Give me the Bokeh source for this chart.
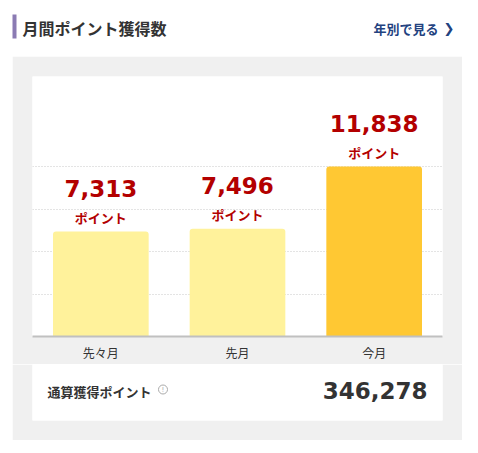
from bokeh.plotting import figure
from bokeh.models import (Range1d, FactorRange, FixedTicker, Label, BoxAnnotation,
                          ColumnDataSource, Spacer)
from bokeh.layouts import column, row
from bokeh.core.properties import value
from bokeh.embed import file_html
from bokeh.resources import INLINE

# ---- data ----
categories = ["先々月", "先月", "今月"]
points = [7313, 7496, 11838]
bar_colors = ["#fff29b", "#fff29b", "#ffc833"]
unit_label = "ポイント"
title_text = "月間ポイント獲得数"
link_text = "年別で見る"
total_label = "通算獲得ポイント"
total_points = 346278

JP = "Noto Sans CJK JP"
NUM = "DejaVu Sans"
RED = "#b30000"
GRAY_BG = "#f0f0f0"

# ---- header ----
hdr = figure(width=470, height=56, x_range=Range1d(0, 470), y_range=Range1d(56, 0),
             x_axis_location=None, y_axis_location=None, toolbar_location=None,
             output_backend="svg", min_border=0, outline_line_color=None)
hdr.xgrid.visible = False
hdr.ygrid.visible = False
hdr.add_layout(BoxAnnotation(left=12, right=16, top=14, bottom=38, fill_color="#8b7bb3",
                             fill_alpha=1, line_color=None))
hdr.add_layout(Label(x=22, y=27, text=title_text, text_font=JP, text_font_size="16px",
                     text_font_style="bold", text_color="#333333", text_baseline="middle"))
hdr.add_layout(Label(x=373, y=28, text=link_text, text_font=JP, text_font_size="13px",
                     text_font_style="bold", text_color="#23427f", text_baseline="middle"))
hdr.add_layout(Label(x=443, y=28, text="❯", text_font=NUM, text_font_size="13px",
                     text_font_style="bold", text_color="#23427f", text_baseline="middle"))

# ---- chart ----
ymax = max(points)
labels = [f"{v:,}" for v in points]
src = ColumnDataSource(dict(cat=categories, val=points, color=bar_colors,
                            lab=labels, unit=[unit_label] * len(points)))

p = figure(width=450, height=308, x_range=FactorRange(*categories),
           y_range=Range1d(0, ymax * 260 / 170), y_axis_location=None,
           toolbar_location=None, output_backend="svg",
           min_border_left=20, min_border_right=20, min_border_top=20, min_border_bottom=28,
           background_fill_color="white", border_fill_color=GRAY_BG, outline_line_color=None)
p.vbar(x="cat", top="val", width=0.70, source=src, fill_color="color", line_color=None,
       border_radius=(3, 3, 0, 0))
p.text(x="cat", y="val", text="lab", source=src, y_offset=-43, text_align="center",
       text_baseline="middle", text_font=value(NUM), text_font_style="bold",
       text_font_size="23px", text_color=RED)
p.text(x="cat", y="val", text="unit", source=src, y_offset=-14, text_align="center",
       text_baseline="middle", text_font=value(JP), text_font_style="bold",
       text_font_size="13px", text_color=RED)

p.xgrid.visible = False
p.ygrid.ticker = FixedTicker(ticks=[ymax * k / 4 for k in range(1, 5)])
p.ygrid.grid_line_color = "#c8c8c8"
p.ygrid.grid_line_dash = "1 2"
p.ygrid.grid_line_width = 1

p.xaxis.axis_line_color = "#c0c0c0"
p.xaxis.axis_line_width = 2
p.xaxis.major_tick_line_color = None
p.xaxis.minor_tick_line_color = None
p.xaxis.major_tick_out = 0
p.xaxis.major_label_standoff = 7
p.xaxis.major_label_text_font = JP
p.xaxis.major_label_text_font_size = "12px"
p.xaxis.major_label_text_color = "#333333"

# ---- total box ----
t = figure(width=450, height=76, x_range=Range1d(0, 410), y_range=Range1d(56, 0),
           x_axis_location=None, y_axis_location=None, toolbar_location=None,
           output_backend="svg", min_border_left=20, min_border_right=20,
           min_border_top=0, min_border_bottom=20,
           background_fill_color="white", border_fill_color=GRAY_BG, outline_line_color=None)
t.xgrid.visible = False
t.ygrid.visible = False
t.add_layout(Label(x=15, y=27, text=total_label, text_font=JP, text_font_size="13px",
                   text_font_style="bold", text_color="#333333", text_baseline="middle"))
t.scatter(x=[130.5], y=[25], marker="circle", size=9, fill_color=None,
          line_color="#aaaaaa", line_width=1)
t.add_layout(Label(x=130.5, y=25.5, text="!", text_font=NUM, text_font_size="7px",
                   text_color="#aaaaaa", text_align="center", text_baseline="middle"))
t.add_layout(Label(x=395, y=26, text=f"{total_points:,}", text_font=NUM,
                   text_font_size="23px", text_font_style="bold", text_color="#333333",
                   text_align="right", text_baseline="middle"))

layout = column(hdr, row(Spacer(width=12, height=10), column(p, t, spacing=0), spacing=0),
                spacing=0)

open("out.html", "w").write(file_html(layout, INLINE))
